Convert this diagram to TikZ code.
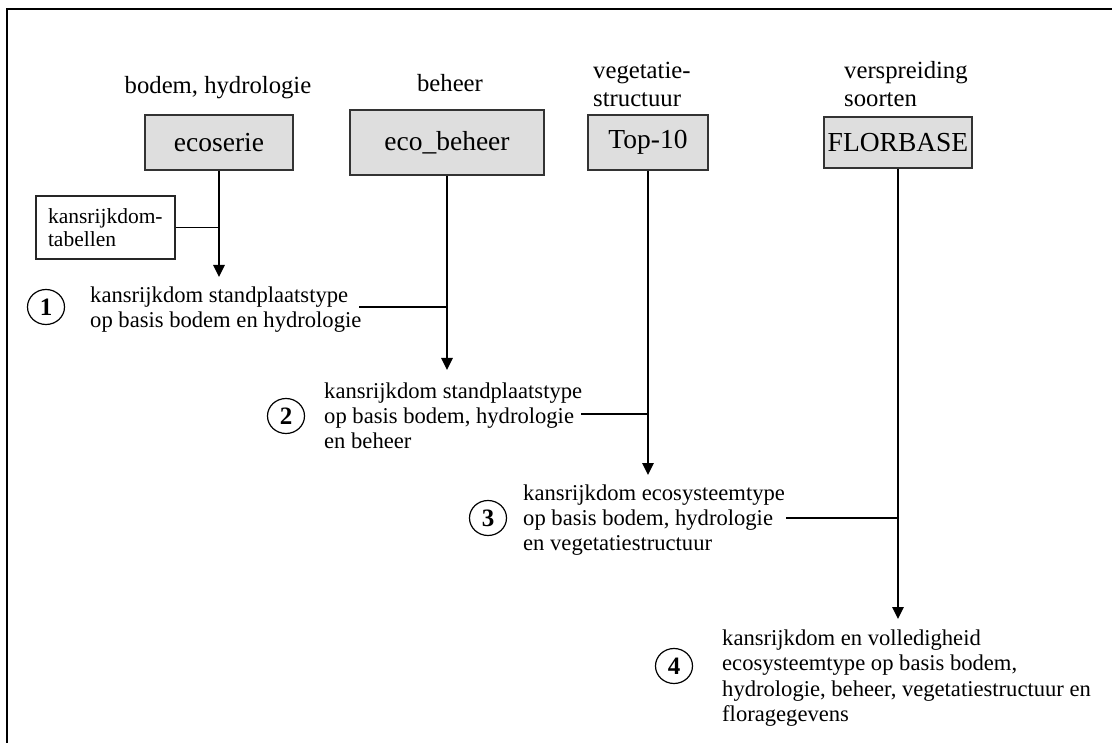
\documentclass[tikz,border=0pt]{standalone}
\usepackage{fontspec}
\setmainfont{Liberation Serif}
\usetikzlibrary{arrows.meta,shapes.geometric}

\tikzset{
  databox/.style={draw=black!80, line width=1.3pt, fill=black!13, inner sep=0pt,
    font=\fontsize{27.5}{30}\selectfont},
  header/.style={inner sep=0pt, align=left, font=\fontsize{24.7}{28}\selectfont},
  tablebox/.style={draw=black!85, line width=1.3pt, inner sep=0pt, align=left,
    font=\fontsize{21.5}{23}\selectfont},
  result/.style={inner sep=0pt, anchor=west, align=left,
    font=\fontsize{22.6}{25.2}\selectfont},
  stepno/.style={draw, ellipse, line width=1.2pt, minimum width=37pt, minimum height=35pt,
    inner sep=0pt, font=\fontsize{25}{26}\selectfont\bfseries},
  flowline/.style={line width=2.6pt, -{Triangle[width=11pt,length=12pt]}},
  joinline/.style={line width=1.3pt},
}

\begin{document}
\begin{tikzpicture}[x=1pt, y=-1pt]
  \useasboundingbox (0,0) rectangle (1112,743);

  % open frame: top and left edges
  \draw[line width=2pt] (1112,9) -- (7,9) -- (7,743);

  % input headers
  \node[header] (h1) at (218,88) {bodem, hydrologie};
  \node[header] (h2) at (450,83) {beheer};
  \node[header, anchor=west] (h3) at (593,84) {vegetatie-\\structuur};
  \node[header, anchor=west] (h4) at (844,84) {verspreiding\\soorten};

  % input data sets
  \node[databox, minimum width=148pt, minimum height=55pt] (eco) at (219,142.5) {ecoserie};
  \node[databox, minimum width=194pt, minimum height=65pt] (beh) at (447,142.5) {eco\_beheer};
  \node[databox, minimum width=120pt, minimum height=55pt] (top) at (648,142.5) {Top-10};
  \node[databox, minimum width=148pt, minimum height=51pt] (flor) at (898,142.5) {FLORBASE};

  % lookup tables
  \node[tablebox, minimum width=139pt, minimum height=63pt, text width=115pt]
    (tab) at (105.5,227.5) {kansrijkdom-\\tabellen};

  % step numbers
  \node[stepno] (n1) at (46,307) {1};
  \node[stepno] (n2) at (286,416) {2};
  \node[stepno] (n3) at (488,518) {3};
  \node[stepno] (n4) at (674,666) {4};

  % results
  \node[result] (r1) at (90,309.5) {kansrijkdom standplaatstype\\op basis bodem en hydrologie};
  \node[result] (r2) at (324,416) {kansrijkdom standplaatstype\\op basis bodem, hydrologie\\en beheer};
  \node[result] (r3) at (523,520) {kansrijkdom ecosysteemtype\\op basis bodem, hydrologie\\en vegetatiestructuur};
  \node[result] (r4) at (722,678) {kansrijkdom en volledigheid\\ecosysteemtype op basis bodem,\\hydrologie, beheer, vegetatiestructuur en\\floragegevens};

  % arrow ends and join starts
  \coordinate (a1) at (219,277);
  \coordinate (a2) at (447,370);
  \coordinate (a3) at (648,475);
  \coordinate (a4) at (898,619);
  \coordinate (j1) at (359,307);
  \coordinate (j2) at (581,414);
  \coordinate (j3) at (786,518);

  % main flow
  \draw[flowline] (eco.south) -- (a1);
  \draw[flowline] (beh.south) -- (a2);
  \draw[flowline] (top.south) -- (a3);
  \draw[flowline] (flor.south) -- (a4);

  % side inputs joining the flow
  \draw[joinline] (tab.east) -- (tab.east -| eco.south);
  \draw[joinline] (j1) -- (j1 -| beh.south);
  \draw[joinline] (j2) -- (j2 -| top.south);
  \draw[joinline] (j3) -- (j3 -| flor.south);
\end{tikzpicture}
\end{document}
